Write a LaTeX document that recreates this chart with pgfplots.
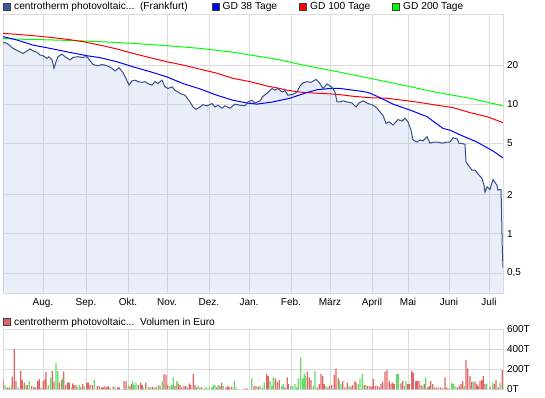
\documentclass[border=0pt]{standalone}
\usepackage{pgfplots}
\pgfplotsset{compat=1.18}
\usepackage{pgfplotstable}
\usepackage{fontspec}
\setmainfont{Liberation Sans}
\definecolor{pricec}{HTML}{34508C}
\definecolor{legc}{HTML}{3A5A98}
\definecolor{fillc}{HTML}{96AAE1}
\definecolor{gridc}{HTML}{DCDCDC}
\definecolor{volred}{HTML}{E06666}
\definecolor{volgreen}{HTML}{66DD66}
\definecolor{gdblue}{HTML}{0000FF}
\definecolor{gdred}{HTML}{FF0000}
\definecolor{gdgreen}{HTML}{00FF00}

\pgfplotstableread{
x y
0 29.9
4 29.4
7 28.2
10 26.9
15 25.7
20 24.6
24 25.7
27 26.6
30 25.7
34 25.1
37 23.9
40 23.6
44 22.5
46 23.2
49 21.9
51 18.9
53 21.2
55 23.2
59 24.3
62 23.2
67 21.9
70 22.9
75 23.2
79 22.9
84 23.2
88 21.2
90 20.2
95 19.75
99 20.2
104 19.75
109 18.9
112 18.0
116 19.1
120 17.5
123 15.8
126 14.0
129 15.1
132 15.3
135 14.9
139 14.7
142 14.9
145 14.4
149 14.0
152 14.9
155 14.4
159 15.3
162 13.6
165 13.2
169 13.6
172 12.8
177 12.1
182 11.7
187 10.4
190 9.5
193 9.1
197 9.5
200 9.9
204 9.7
209 10.1
212 9.5
215 9.8
219 9.3
222 9.7
227 9.3
232 10.0
237 9.8
242 9.7
245 10.4
249 10.7
252 10.2
257 10.6
260 11.5
264 12.1
269 13.2
272 12.8
275 13.2
279 12.4
282 12.7
285 11.7
290 11.9
294 12.4
297 13.8
300 14.6
304 14.9
308 14.7
313 15.5
317 14.4
320 13.2
324 14.3
329 13.5
332 12.4
334 10.4
337 10.4
340 10.6
344 10.4
349 10.2
353 9.5
356 10.2
360 10.6
365 10.1
367 10.0
370 9.8
374 9.3
377 8.7
380 8.2
383 7.1
386 7.3
390 6.9
393 7.3
395 7.6
399 7.4
402 7.8
405 7.3
408 6.3
410 5.3
414 5.1
417 5.3
420 5.2
424 5.6
427 5.0
430 5.1
435 5.1
439 5.0
444 5.1
447 5.1
450 5.5
454 5.4
456 5.0
460 4.95
462 4.9
463 3.6
465 3.4
469 3.1
472 3.1
475 2.9
479 2.67
481 2.37
482 2.1
484 2.3
487 2.2
490 2.62
494 2.37
495 2.17
498 2.2
498.5 1.57
499.3 0.77
500 0.55
}\price

\pgfplotstableread{
x y
0 33.1
14 31.2
30 28.5
47 26.9
64 25.3
84 23.6
97 22.8
114 21.2
130 19.4
147 17.8
164 16.2
180 14.4
197 13.1
214 11.7
230 10.7
244 10.2
254 10.0
270 10.4
287 11.1
304 12.3
314 12.9
327 13.2
337 13.2
357 12.6
365 12.3
374 11.5
390 10.0
407 9.0
424 8.0
440 6.5
447 6.3
457 5.8
474 5.1
490 4.35
500 3.85
}\gdA

\pgfplotstableread{
x y
0 35.1
14 34.5
30 33.7
47 32.7
64 31.6
80 30.3
97 28.5
114 26.6
130 24.6
147 22.8
164 21.2
180 20.0
197 18.6
214 17.3
230 15.8
247 14.9
264 13.8
277 13.2
284 12.8
300 12.3
317 12.1
334 11.9
350 11.5
367 11.2
384 11.1
400 10.7
417 10.3
434 9.8
450 9.4
467 8.6
484 8.0
500 7.2
}\gdB

\pgfplotstableread{
x y
0 32.1
14 31.7
30 31.5
64 31.0
97 30.3
130 29.4
164 28.2
197 26.9
230 25.1
264 22.8
277 21.9
300 20.0
334 17.8
367 15.8
400 14.0
434 12.3
467 11.1
500 9.7
}\gdC

\pgfplotstableread{
x y
0 103
4.3 20
6.3 20
9.3 127
11.3 403
13 83
17.7 183
19.3 93
21.3 67
24.3 43
28.7 33
31 27
32.7 20
34.7 83
36.3 103
40.3 83
42 103
43 177
49.3 183
51 77
56.3 67
58.7 93
60.7 177
62.7 43
64.7 70
66.3 67
69.7 60
71 43
73 43
77.7 20
79.7 53
83.7 67
85.3 67
87 43
89.3 43
94.3 33
96.3 33
98.7 20
100.3 20
102 33
103.7 20
105.3 33
110.3 27
114.7 20
116.3 20
121 83
123 83
127 33
128.7 53
135.3 43
137.7 67
139.3 43
142.7 67
147 20
149.3 27
153 27
157 33
161 153
163 143
164.7 43
172 33
175.3 60
177 43
178.7 20
181 33
182.7 33
186.3 60
187.7 43
190.3 153
192 43
193.7 20
198.7 20
213.7 20
217 33
218.7 67
223 20
224.7 33
226.3 20
228.7 27
242 10
244.3 10
251 33
253 33
255.3 27
263.7 153
265.3 133
272.3 110
274.3 77
276.3 93
282 20
284.3 120
285.3 53
304.3 177
306.3 120
308 93
314.3 20
316.3 53
318 153
319.7 133
321.3 53
326.3 33
328.7 43
331.3 143
333 210
335.3 110
339.7 83
342 20
344.3 67
348 27
349.7 43
352 83
353 67
361.3 43
364.7 33
367 33
368.7 27
370.3 103
372.3 33
374.3 33
376.3 20
378 53
379.7 77
382 177
384 193
386.3 83
388 60
389.7 67
391.3 53
398 60
399.7 83
404.7 53
406.3 53
408.7 183
410.3 167
412.7 83
414.3 83
416 83
418 43
421.3 53
424.7 20
426.3 33
427.7 83
429.7 53
433 20
435.3 20
437.7 20
439.7 10
442 120
443.7 20
446 10
454.3 20
456.3 33
458 53
459.7 83
463 293
464.7 210
467 133
468.7 77
472 77
473.7 53
475.3 33
477 83
478.7 93
480.3 133
482 53
487 27
491.3 53
493 93
495.3 20
499.3 193
}\volR

\pgfplotstableread{
x y
2 43
8.7 43
15.3 20
23 43
26.3 83
38 20
45.3 43
47.7 120
53 267
54.7 183
59.7 110
68.7 20
74.3 20
76.3 43
81.3 33
91.3 93
107 20
112 20
125.3 43
129.7 83
131.3 43
133 67
140.3 20
145.3 27
151 20
155.3 43
159.3 83
167 33
168.7 43
170.3 120
173.7 83
184.3 20
195.3 33
197 20
202 20
203.7 20
206.3 20
208.7 20
210.3 43
212 43
215.3 43
220.3 33
231.3 83
233 20
248.7 110
257 33
259.3 20
261.3 67
267 83
268.7 33
270.3 120
278.7 33
280.3 53
287.7 33
289.7 33
292 53
293.7 20
295.3 110
297.7 320
299.7 110
301.3 160
302.3 133
310.3 33
312 183
323 33
324.7 20
336.3 93
338 53
346 33
355.3 53
357 110
359.3 153
363 43
393.7 153
395.3 153
401.3 33
403 83
419.7 33
422.7 120
431.3 20
448.7 67
450.3 53
452 33
461.3 33
470.3 77
483.7 53
489.7 70
497 67
}\volG

\pgfplotsset{
  chartbase/.style={
    scale only axis, width=500bp,
    xmin=0, xmax=500,
    xtick={40,83,125,164,206,246,288,327,369,405,446,486},
    yticklabel pos=right,
    grid=major,
    major grid style={gridc, line width=0.8bp},
    axis line style={gridc, line width=0.8bp},
    major tick length=0pt,
    tick style={draw=none},
    tick label style={font=\fontsize{10bp}{12bp}\selectfont, text=black},
    yticklabel style={anchor=west, xshift=0.5bp},
  }
}

\begin{document}
\begin{tikzpicture}
\useasboundingbox (0,0) rectangle (545bp,-398bp);
\begin{axis}[chartbase,
  at={(3bp,-293bp)}, anchor=south west, height=279bp,
  ymode=log, ymin=0.35, ymax=49.5,
  ytick={0.5,1,2,5,10,20}, yticklabels={{0,5},1,2,5,10,20},
  xticklabels={Aug.,Sep.,Okt.,Nov.,Dez.,Jan.,Feb.,März,April,Mai,Juni,Juli},
  xticklabel style={yshift=-2bp},
]
\addplot[fill=fillc, fill opacity=0.2, draw=none] table {\price} |- (axis cs:0,0.35) -- cycle;
\addplot[gdgreen, line width=1bp] table {\gdC};
\addplot[gdred, line width=1bp] table {\gdB};
\addplot[gdblue, line width=1bp] table {\gdA};
\addplot[pricec, line width=1bp] table {\price};
\end{axis}
\begin{axis}[chartbase,
  at={(3bp,-389.3bp)}, anchor=south west, height=60bp,
  ymin=0, ymax=600,
  ytick={0,200,400,600}, yticklabels={0T,200T,400T,600T},
  xticklabel=\empty,
]
\addplot[ybar, bar width=1.2, fill=volred, draw=none] table {\volR};
\addplot[ybar, bar width=1.2, fill=volgreen, draw=none] table {\volG};
\end{axis}
% legends
\begin{scope}[font=\fontsize{10.2bp}{12bp}\selectfont]
\draw[black!75, line width=0.8bp, fill=legc] (3.4bp,-3bp) rectangle (10.4bp,-10bp);
\node[anchor=base west, inner sep=0] at (14bp,-9.5bp) {centrotherm photovoltaic...\ \ (Frankfurt)};
\draw[black!75, line width=0.8bp, fill=gdblue] (212.4bp,-3bp) rectangle (219.4bp,-10bp);
\node[anchor=base west, inner sep=0] at (222.5bp,-9.5bp) {GD 38 Tage};
\draw[black!75, line width=0.8bp, fill=gdred] (299.4bp,-3bp) rectangle (306.4bp,-10bp);
\node[anchor=base west, inner sep=0] at (310bp,-9.5bp) {GD 100 Tage};
\draw[black!75, line width=0.8bp, fill=gdgreen] (392.4bp,-3bp) rectangle (399.4bp,-10bp);
\node[anchor=base west, inner sep=0] at (403bp,-9.5bp) {GD 200 Tage};
\draw[black!75, line width=0.8bp, fill=volred] (3.4bp,-318bp) rectangle (10.4bp,-325bp);
\node[anchor=base west, inner sep=0] at (14bp,-325bp) {centrotherm photovoltaic...\ \ Volumen in Euro};
\end{scope}
\end{tikzpicture}
\end{document}
